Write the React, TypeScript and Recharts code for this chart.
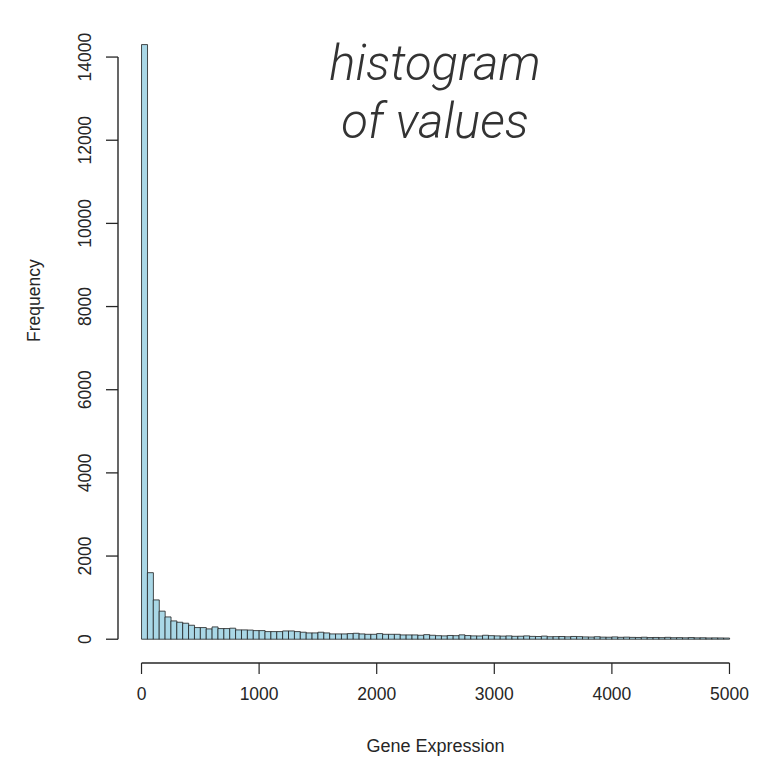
import { BarChart, Bar, XAxis, YAxis, ReferenceLine } from "recharts"

// histogram of gene expression, 100 bins of width 50 (0..5000)
const BIN_WIDTH = 50
const COUNTS = [
  14300, 1600, 945, 675, 536, 440, 408, 385, 336, 280,
  280, 248, 296, 256, 256, 265, 224, 224, 220, 207,
  207, 183, 183, 183, 199, 199, 183, 168, 151, 151,
  168, 151, 127, 127, 127, 135, 143, 127, 118, 118,
  135, 118, 118, 118, 103, 103, 103, 95, 110, 95,
  85, 80, 90, 85, 105, 88, 80, 78, 95, 85,
  80, 75, 80, 70, 72, 80, 68, 65, 75, 60,
  62, 65, 58, 66, 62, 55, 52, 60, 50, 48,
  55, 46, 50, 44, 42, 48, 40, 42, 38, 45,
  36, 38, 34, 40, 33, 35, 30, 32, 30, 28,
]
const X_TICKS = [0, 1000, 2000, 3000, 4000, 5000]
const Y_TICKS = [0, 2000, 4000, 6000, 8000, 10000, 12000, 14000]

const data = COUNTS.map((count, i) => ({ mid: i * BIN_WIDTH + BIN_WIDTH / 2, count }))

// R style axis range: 4% extension on both sides
const xMin = 0
const xMax = COUNTS.length * BIN_WIDTH
const xPad = (xMax - xMin) * 0.04
const yMax = Math.max(...COUNTS)
const yPad = yMax * 0.04

const FONT = "'Liberation Sans', Arial, sans-serif"
const INK = "#262626"

function YTick(props: any) {
  const { x, y, payload } = props
  const cx = x - 21
  return (
    <g>
      <line x1={x} y1={y} x2={x + 12} y2={y} stroke={INK} strokeWidth={1.3} />
      <text
        x={cx}
        y={y}
        textAnchor="middle"
        dominantBaseline="central"
        fontSize={17.5}
        fontFamily={FONT}
        fill={INK}
        transform={`rotate(-90 ${cx} ${y})`}
      >
        {payload.value}
      </text>
    </g>
  )
}

export default function App() {
  return (
    <div style={{ position: "absolute", left: 0, top: 0, width: 768, height: 771, background: "#fff" }}>
      <BarChart
        width={768}
        height={771}
        data={data}
        margin={{ top: 20.8, right: 15, left: 0, bottom: 0 }}
        barCategoryGap={0}
        barGap={0}
      >
        <XAxis
          dataKey="mid"
          type="number"
          domain={[xMin - xPad, xMax + xPad]}
          ticks={X_TICKS}
          axisLine={false}
          tickLine={{ stroke: INK, strokeWidth: 1.2 }}
          tickSize={11}
          tickMargin={14}
          height={108}
          tick={{ fill: INK, fontSize: 17.5, fontFamily: FONT }}
          label={{ value: "Gene Expression", position: "insideBottom", offset: 19, fill: INK, fontSize: 18, fontFamily: FONT }}
        />
        <YAxis
          type="number"
          domain={[-yPad, yMax + yPad]}
          ticks={Y_TICKS}
          axisLine={false}
          tickLine={false}
          tickSize={12}
          tickMargin={0}
          width={118}
          tick={<YTick />}
          label={{ value: "Frequency", angle: -90, position: "insideLeft", offset: 34, fill: INK, fontSize: 17.5, fontFamily: FONT }}
        />
        <ReferenceLine
          segment={[{ x: xMin - xPad, y: Y_TICKS[0] }, { x: xMin - xPad, y: Y_TICKS[Y_TICKS.length - 1] }]}
          stroke={INK}
          strokeWidth={1.4}
          ifOverflow="visible"
        />
        <ReferenceLine
          segment={[{ x: X_TICKS[0], y: -yPad }, { x: X_TICKS[X_TICKS.length - 1], y: -yPad }]}
          stroke={INK}
          strokeWidth={1.3}
          ifOverflow="visible"
        />
        <Bar dataKey="count" fill="#a9d7e6" stroke="#1e1e1e" strokeWidth={0.8} isAnimationActive={false} />
      </BarChart>

      <div
        style={{
          position: "absolute",
          left: 285,
          top: 35,
          width: 300,
          textAlign: "center",
          fontFamily: "Roboto, 'Liberation Sans', sans-serif",
          fontStyle: "italic",
          fontWeight: 300,
          fontSize: 49,
          lineHeight: "58px",
          color: "#333",
        }}
      >
        histogram
        <br />
        of values
      </div>
    </div>
  )
}
